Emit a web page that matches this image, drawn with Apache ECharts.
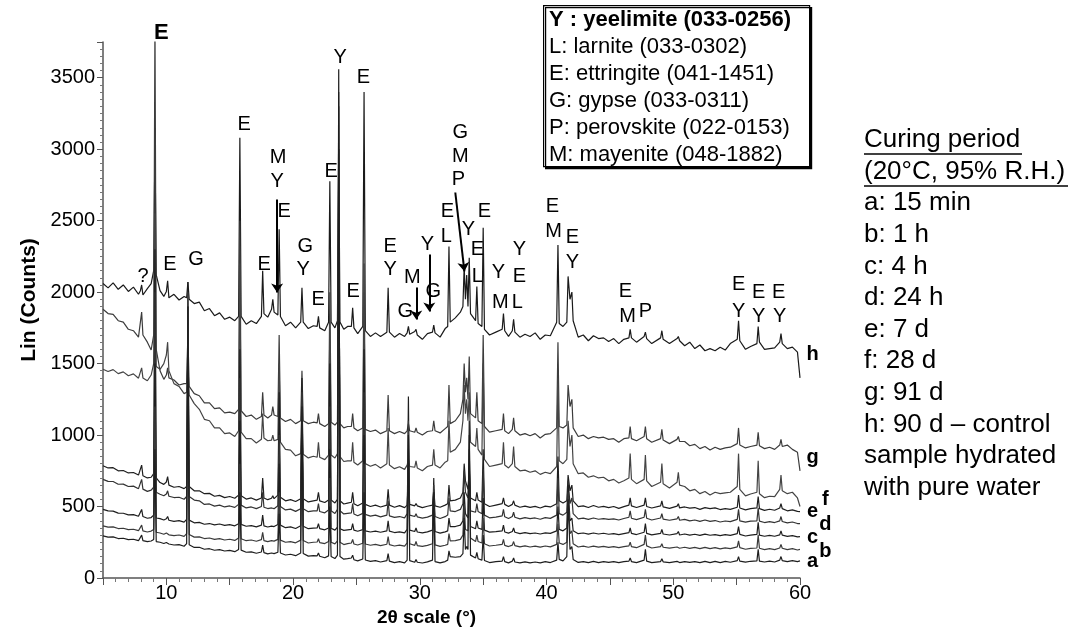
<!DOCTYPE html>
<html>
<head>
<meta charset="utf-8">
<script src="https://cdn.jsdelivr.net/npm/echarts@6/dist/echarts.min.js"></script>
<style>
html, body { margin: 0; padding: 0; background: #fff; }
#main { width: 1073px; height: 632px; }
</style>
</head>
<body>
<div id="main"></div>
<script>
// XRD patterns: one 2theta grid, one counts array per sample
var twoTheta = [
    5.0, 5.4, 5.8, 6.2, 6.6, 7.0, 7.4, 7.8, 7.95, 8.05,
    8.15, 8.5, 8.8, 9.0, 9.1, 9.2, 9.5, 9.8, 10.0, 10.1,
    10.2, 10.6, 11.0, 11.4, 11.6, 11.7, 11.8, 12.2, 12.6, 13.0,
    13.4, 13.8, 14.2, 14.6, 15.0, 15.4, 15.7, 15.8, 15.9, 16.3,
    16.7, 17.1, 17.5, 17.6, 17.7, 18.0, 18.3, 18.4, 18.5, 18.8,
    18.9, 19.0, 19.4, 19.8, 20.2, 20.6, 20.7, 20.8, 21.2, 21.6,
    21.9, 22.0, 22.1, 22.5, 22.8, 22.9, 23.0, 23.3, 23.5, 23.6,
    23.7, 24.0, 24.3, 24.6, 24.7, 24.8, 25.1, 25.5, 25.6, 25.7,
    26.1, 26.5, 26.9, 27.4, 27.5, 27.6, 28.0, 28.4, 28.8, 29.0,
    29.1, 29.2, 29.6, 29.7, 29.8, 30.2, 30.6, 31.0, 31.1, 31.2,
    31.6, 32.0, 32.2, 32.3, 32.4, 32.8, 33.2, 33.4, 33.5, 33.6,
    33.7, 33.8, 33.9, 34.0, 34.4, 34.5, 34.6, 34.9, 35.0, 35.1,
    35.5, 36.0, 36.5, 36.6, 36.7, 37.0, 37.3, 37.4, 37.5, 37.9,
    38.3, 38.7, 39.1, 39.5, 39.9, 40.3, 40.8, 40.9, 41.0, 41.3,
    41.6, 41.7, 41.85, 42.0, 42.1, 42.5, 42.9, 43.3, 43.7, 44.1,
    44.5, 44.9, 45.3, 45.7, 46.1, 46.5, 46.6, 46.7, 47.1, 47.7,
    47.8, 47.9, 48.3, 49.0, 49.1, 49.2, 49.7, 50.3, 50.4, 50.5,
    50.9, 51.3, 51.7, 52.1, 52.5, 52.9, 53.3, 53.7, 54.1, 54.5,
    55.05, 55.15, 55.25, 55.7, 56.1, 56.6, 56.7, 56.8, 57.2, 57.6,
    58.0, 58.4, 58.5, 58.6, 59.0, 59.4, 59.8, 60.0
];

var yH = [
    2060, 2030, 2065, 2020, 2050, 2005, 2035, 1985, 2010, 2050,
    1980, 2025, 2060, 2150, 3050, 2120, 2010, 1970, 2005, 2080,
    1960, 1985, 1945, 1970, 1960, 2070, 1950, 1920, 1930, 1870,
    1885, 1835, 1855, 1810, 1825, 1800, 1830, 3080, 1830, 1775,
    1800, 1780, 1830, 2150, 1850, 1825, 1880, 1950, 1860, 1840,
    2440, 1830, 1765, 1790, 1750, 1790, 2030, 1790, 1745, 1765,
    1760, 1830, 1750, 1730, 1790, 2775, 1790, 1750, 1800, 3000,
    1790, 1740, 1760, 1760, 1890, 1750, 1710, 1760, 3400, 1730,
    1690, 1715, 1690, 1720, 2030, 1720, 1685, 1710, 1690, 1715,
    1760, 1705, 1725, 1740, 1700, 1670, 1710, 1720, 1770, 1715,
    1685, 1745, 1760, 2320, 1790, 1820, 1860, 1900, 2180, 1950,
    2120, 1900, 2240, 1850, 1800, 2040, 1780, 1760, 2450, 1740,
    1700, 1720, 1740, 1850, 1730, 1690, 1730, 1810, 1720, 1685,
    1705, 1690, 1715, 1670, 1700, 1695, 1790, 2330, 1780, 1760,
    1790, 2110, 1950, 2000, 1800, 1685, 1700, 1660, 1695, 1675,
    1680, 1655, 1675, 1640, 1670, 1680, 1740, 1680, 1650, 1690,
    1720, 1675, 1640, 1680, 1730, 1670, 1640, 1675, 1690, 1660,
    1625, 1650, 1605, 1630, 1590, 1605, 1590, 1615, 1595, 1640,
    1670, 1800, 1660, 1600, 1620, 1640, 1760, 1650, 1600, 1605,
    1610, 1650, 1710, 1640, 1605, 1615, 1580, 1400
];
var yG = [
    1880, 1850, 1845, 1800, 1790, 1740, 1730, 1685, 1690, 1860,
    1700, 1650, 1595, 1700, 3900, 1600, 1450, 1390, 1420, 1470,
    1400, 1385, 1350, 1360, 1360, 1700, 1340, 1290, 1275, 1225,
    1225, 1185, 1190, 1155, 1160, 1150, 1180, 2500, 1170, 1130,
    1140, 1110, 1130, 1300, 1140, 1120, 1140, 1200, 1140, 1130,
    1700, 1120, 1095, 1110, 1080, 1100, 1450, 1100, 1080, 1090,
    1085, 1150, 1080, 1060, 1080, 2000, 1090, 1070, 1090, 2400,
    1080, 1050, 1060, 1060, 1150, 1050, 1030, 1050, 2200, 1040,
    1025, 1035, 1010, 1030, 1280, 1030, 1010, 1025, 1010, 1030,
    1080, 1030, 1020, 1050, 1020, 1000, 1025, 1030, 1100, 1030,
    1015, 1045, 1060, 1350, 1080, 1100, 1150, 1250, 1500, 1300,
    1400, 1250, 1550, 1150, 1120, 1300, 1100, 1080, 1700, 1060,
    1020, 1030, 1040, 1150, 1030, 1010, 1040, 1120, 1030, 1000,
    1010, 995, 1010, 980, 1005, 1010, 1050, 1650, 1060, 1050,
    1070, 1350, 1200, 1250, 1050, 990, 1000, 975, 990, 980,
    985, 970, 975, 950, 975, 980, 1060, 975, 960, 990,
    1060, 975, 950, 975, 1040, 965, 940, 970, 990, 955,
    955, 925, 935, 905, 920, 895, 915, 900, 910, 915,
    940, 1050, 930, 910, 920, 930, 1020, 925, 905, 915,
    900, 930, 970, 920, 930, 900, 880, 750
];
var yF = [
    1460, 1445, 1458, 1430, 1442, 1415, 1428, 1398, 1400, 1470,
    1400, 1380, 1420, 1500, 2550, 1480, 1460, 1500, 1560, 1650,
    1450, 1360, 1340, 1290, 1300, 1500, 1280, 1220, 1180, 1110,
    1100, 1050, 1050, 1010, 1015, 990, 1030, 2200, 1020, 975,
    975, 945, 970, 1150, 980, 960, 965, 1000, 960, 970,
    1500, 950, 900, 895, 855, 870, 1250, 865, 840, 852,
    845, 950, 845, 828, 860, 1800, 860, 840, 870, 2200,
    850, 815, 820, 820, 950, 810, 790, 820, 2000, 800,
    782, 795, 770, 800, 1050, 790, 765, 778, 760, 790,
    830, 780, 775, 820, 770, 750, 780, 790, 900, 790,
    770, 810, 820, 1100, 880, 900, 950, 1100, 1350, 1150,
    1250, 1100, 1300, 950, 920, 1050, 900, 860, 1500, 830,
    780, 790, 800, 950, 790, 770, 800, 920, 780, 750,
    755, 740, 750, 725, 740, 730, 780, 1400, 820, 800,
    830, 1100, 920, 1000, 800, 730, 735, 705, 715, 700,
    705, 680, 690, 665, 680, 700, 870, 690, 660, 690,
    860, 680, 640, 670, 800, 660, 630, 670, 740, 650,
    640, 610, 620, 590, 605, 580, 600, 590, 595, 600,
    640, 870, 620, 575, 588, 600, 820, 590, 562, 572,
    570, 620, 720, 610, 590, 600, 560, 500
];
var yE = [
    785, 770, 772, 750, 752, 735, 738, 720, 722, 790,
    715, 700, 705, 730, 2300, 700, 668, 655, 672, 710,
    650, 635, 640, 625, 640, 1500, 640, 610, 610, 590,
    592, 572, 578, 562, 570, 558, 580, 1600, 575, 552,
    560, 545, 560, 700, 560, 548, 558, 575, 555, 580,
    1300, 565, 540, 548, 535, 555, 1100, 555, 532, 540,
    545, 600, 540, 528, 545, 1500, 545, 525, 550, 2600,
    540, 518, 524, 530, 600, 520, 505, 525, 1600, 515,
    500, 510, 497, 510, 620, 510, 495, 506, 492, 510,
    700, 515, 505, 520, 505, 492, 502, 510, 620, 505,
    495, 510, 520, 650, 540, 545, 560, 600, 800, 680,
    650, 620, 760, 560, 540, 600, 545, 530, 900, 520,
    500, 510, 520, 560, 515, 500, 515, 540, 510, 495,
    503, 494, 501, 490, 503, 497, 520, 850, 540, 525,
    540, 720, 610, 650, 540, 500, 505, 493, 507, 495,
    501, 492, 500, 487, 499, 510, 560, 505, 493, 510,
    560, 500, 490, 505, 540, 498, 487, 503, 520, 490,
    497, 489, 493, 480, 492, 485, 491, 479, 485, 480,
    495, 580, 490, 477, 485, 490, 570, 485, 473, 481,
    474, 490, 520, 485, 470, 477, 466, 465
];
var yD = [
    690, 676, 675, 656, 657, 640, 643, 625, 628, 690,
    622, 606, 615, 635, 2000, 600, 586, 575, 588, 610,
    572, 563, 565, 551, 570, 1900, 570, 545, 540, 515,
    518, 503, 510, 497, 504, 494, 515, 1400, 510, 490,
    497, 485, 500, 600, 495, 486, 490, 490, 485, 505,
    1000, 500, 476, 482, 466, 485, 1200, 485, 464, 470,
    470, 520, 465, 456, 475, 1200, 470, 451, 480, 3000,
    470, 448, 452, 455, 520, 448, 436, 452, 1300, 445,
    433, 440, 428, 440, 540, 435, 424, 430, 421, 450,
    900, 440, 430, 450, 428, 419, 426, 440, 600, 430,
    416, 429, 440, 560, 470, 465, 480, 520, 750, 600,
    600, 560, 800, 470, 460, 520, 465, 450, 760, 440,
    421, 426, 435, 480, 428, 416, 430, 460, 425, 414,
    422, 416, 420, 411, 422, 417, 440, 700, 450, 440,
    460, 680, 520, 560, 450, 414, 419, 410, 420, 411,
    416, 410, 414, 406, 416, 425, 470, 418, 408, 425,
    480, 418, 406, 420, 450, 412, 404, 414, 430, 404,
    410, 400, 406, 396, 406, 396, 402, 392, 399, 394,
    410, 480, 400, 391, 398, 400, 490, 398, 388, 394,
    388, 400, 430, 395, 386, 392, 381, 380
];
var yC = [
    480, 470, 468, 454, 453, 442, 443, 432, 433, 480,
    430, 418, 423, 440, 1500, 420, 415, 406, 414, 430,
    404, 396, 401, 391, 410, 2070, 405, 386, 389, 376,
    381, 372, 378, 368, 373, 365, 380, 1100, 375, 362,
    367, 358, 370, 440, 365, 357, 363, 365, 360, 375,
    800, 370, 352, 358, 346, 365, 1400, 362, 345, 349,
    350, 380, 345, 337, 350, 900, 348, 335, 355, 3300,
    345, 333, 337, 340, 380, 335, 327, 338, 1000, 330,
    322, 328, 320, 330, 400, 328, 318, 323, 316, 340,
    1270, 335, 325, 350, 322, 316, 323, 335, 700, 325,
    314, 323, 330, 420, 360, 360, 370, 400, 600, 450,
    450, 420, 900, 360, 345, 400, 350, 340, 560, 335,
    321, 325, 330, 370, 322, 314, 325, 350, 320, 311,
    318, 310, 315, 308, 316, 312, 330, 500, 340, 330,
    350, 650, 400, 420, 330, 310, 315, 307, 315, 308,
    313, 306, 311, 304, 311, 318, 350, 312, 304, 320,
    380, 312, 302, 312, 340, 308, 301, 311, 325, 301,
    308, 300, 306, 298, 307, 299, 304, 296, 303, 298,
    310, 360, 305, 294, 300, 305, 390, 300, 292, 298,
    292, 302, 330, 300, 291, 297, 288, 290
];
var yB = [
    365, 356, 358, 346, 348, 338, 341, 331, 333, 370,
    330, 322, 328, 340, 1200, 320, 315, 306, 315, 320,
    302, 296, 301, 291, 310, 2000, 305, 286, 288, 276,
    280, 270, 275, 266, 271, 263, 280, 800, 275, 261,
    266, 257, 268, 320, 262, 254, 261, 262, 258, 270,
    600, 265, 250, 255, 246, 265, 1300, 262, 245, 250,
    252, 275, 248, 241, 255, 700, 250, 239, 260, 3400,
    250, 234, 240, 245, 270, 238, 231, 243, 800, 238,
    229, 235, 227, 236, 290, 233, 224, 230, 223, 245,
    1100, 240, 228, 255, 227, 221, 228, 240, 650, 232,
    221, 229, 235, 310, 260, 262, 270, 300, 520, 340,
    350, 330, 1000, 280, 255, 300, 255, 245, 420, 240,
    224, 229, 235, 270, 228, 220, 230, 255, 226, 218,
    225, 217, 223, 216, 224, 218, 235, 380, 245, 235,
    250, 600, 310, 330, 240, 217, 223, 215, 223, 216,
    221, 214, 219, 212, 219, 225, 250, 220, 212, 235,
    300, 225, 210, 220, 240, 215, 209, 217, 230, 208,
    215, 207, 214, 206, 214, 206, 212, 204, 211, 206,
    218, 260, 212, 201, 207, 210, 300, 208, 199, 205,
    199, 210, 235, 208, 198, 205, 196, 200
];
var yA = [
    295, 286, 288, 276, 278, 268, 271, 261, 263, 300,
    262, 254, 259, 270, 900, 255, 250, 241, 248, 250,
    238, 231, 233, 222, 240, 1900, 232, 214, 215, 201,
    205, 194, 198, 189, 193, 184, 200, 600, 195, 180,
    183, 173, 182, 230, 178, 169, 175, 175, 171, 180,
    450, 175, 161, 166, 156, 175, 1200, 172, 153, 157,
    155, 175, 152, 142, 155, 500, 150, 136, 160, 3560,
    150, 132, 135, 140, 160, 128, 120, 133, 600, 126,
    116, 121, 112, 122, 170, 118, 108, 114, 106, 125,
    1000, 122, 110, 130, 110, 105, 113, 125, 600, 115,
    106, 115, 125, 190, 150, 145, 150, 170, 420, 200,
    220, 200, 1100, 160, 140, 180, 135, 125, 300, 122,
    108, 114, 118, 150, 115, 106, 118, 140, 112, 106,
    113, 106, 112, 106, 114, 108, 125, 250, 130, 120,
    150, 550, 200, 220, 130, 109, 115, 108, 116, 108,
    115, 109, 115, 108, 115, 118, 140, 115, 108, 125,
    200, 118, 108, 115, 135, 113, 108, 116, 125, 108,
    115, 109, 115, 108, 116, 108, 116, 108, 116, 110,
    122, 150, 118, 111, 117, 120, 200, 118, 112, 118,
    112, 125, 150, 122, 114, 121, 115, 120
];

var traceNames = ['h', 'g', 'f', 'e', 'd', 'c', 'b', 'a'];
var traceCounts = [yH, yG, yF, yE, yD, yC, yB, yA];
var traceColors = ['#1a1a1a', '#3c3c3c', '#444', '#1e1e1e', '#333', '#1e1e1e', '#3a3a3a', '#1e1e1e'];

// peak identification letters [2theta, counts, text]
var peakLabels = [
    [8.16, 2110, '?'], [10.29, 2194, 'E'], [12.35, 2229, 'G'], [16.14, 3172, 'E'],
    [18.82, 2941, 'M'], [18.74, 2774, 'Y'], [19.3, 2564, 'E'], [17.72, 2194, 'E'],
    [20.96, 2319, 'G'], [20.8, 2159, 'Y'], [21.98, 1949, 'E'], [23.01, 2843, 'E'],
    [23.72, 3640, 'Y'], [25.54, 3500, 'E'], [24.75, 2005, 'E'],
    [27.67, 2319, 'E'], [27.67, 2159, 'Y'], [29.41, 2103, 'M'], [28.85, 1865, 'G'],
    [30.59, 2333, 'Y'], [31.07, 2005, 'G'],
    [33.2, 3116, 'G'], [33.2, 2948, 'M'], [33.04, 2787, 'P'],
    [32.17, 2564, 'E'], [32.09, 2389, 'L'], [33.83, 2438, 'Y'], [35.09, 2564, 'E'],
    [34.54, 2298, 'E'], [34.54, 2110, 'L'], [36.2, 2138, 'Y'], [36.36, 1928, 'M'],
    [37.86, 2298, 'Y'], [37.86, 2110, 'E'], [37.7, 1928, 'L'],
    [40.47, 2599, 'E'], [40.55, 2424, 'M'], [42.05, 2382, 'E'], [42.05, 2208, 'Y'],
    [46.23, 2005, 'E'], [46.39, 1830, 'M'], [47.81, 1865, 'P'],
    [55.16, 2054, 'E'], [55.16, 1865, 'Y'], [56.74, 1998, 'E'], [56.74, 1830, 'Y'],
    [58.32, 1998, 'E'], [58.4, 1830, 'Y']
];
var mainPeakLabel = [9.6, 3814, 'E'];
// arrows [x1, y1, x2, y2]
var arrows = [
    [18.74, 2648, 18.74, 1998],
    [29.72, 2033, 29.72, 1809],
    [30.75, 2264, 30.75, 1865],
    [32.8, 2697, 33.52, 2145]
];
// sample tags at the right end [2theta, counts, text]
var traceTags = [
    [61.0, 1565, 'h'], [61.0, 845, 'g'], [62.0, 552, 'f'], [61.0, 468, 'e'],
    [62.0, 377, 'd'], [61.0, 286, 'c'], [62.0, 189, 'b'], [61.0, 119, 'a']
];

var phaseLines = ['Y : yeelimite (033-0256)', 'L: larnite (033-0302)', 'E: ettringite (041-1451)',
    'G: gypse (033-0311)', 'P: perovskite (022-0153)', 'M: mayenite (048-1882)'];
var curingLines = ['Curing period', '(20°C, 95% R.H.)', 'a: 15 min', 'b: 1 h', 'c: 4 h', 'd: 24 h',
    'e: 7 d', 'f: 28 d', 'g: 91 d', 'h: 90 d – control', 'sample hydrated', 'with pure water'];

var FONT = '"Liberation Sans", Arial, sans-serif';

var myChart = echarts.init(document.getElementById('main'));

var series = [];
traceCounts.forEach(function (ys, i) {
    series.push({
        name: traceNames[i],
        type: 'line',
        data: twoTheta.map(function (x, k) { return [x, ys[k]]; }),
        showSymbol: false,
        symbol: 'none',
        clip: true,
        lineStyle: { color: traceColors[i], width: 1.2 },
        z: 2
    });
});

function textSeries(data, fontSize, fontWeight) {
    return {
        type: 'scatter',
        clip: false,
        symbolSize: 0,
        itemStyle: { color: '#000' },
        data: data,
        label: {
            show: true,
            position: 'inside',
            formatter: function (p) { return p.value[2]; },
            color: '#000',
            opacity: 1,
            textBorderWidth: 0,
            fontFamily: FONT,
            fontWeight: fontWeight,
            fontSize: fontSize
        },
        z: 5
    };
}

var peakSeries = textSeries(peakLabels.map(function (p) { return { value: p }; }).concat([{
    value: mainPeakLabel,
    label: { fontWeight: 'bold', fontSize: 22 }
}]), 20, 'normal');
peakSeries.markLine = {
    silent: true,
    symbol: ['none', 'arrow'],
    symbolSize: 9,
    label: { show: false },
    lineStyle: { color: '#000', width: 2, type: 'solid' },
    data: arrows.map(function (a) {
        return [{ coord: [a[0], a[1]] }, { coord: [a[2], a[3]] }];
    })
};
series.push(peakSeries);
series.push(textSeries(traceTags, 20, 'bold'));

var graphics = [{
    type: 'rect',
    left: 543, top: 5,
    shape: { width: 266, height: 161 },
    style: { fill: '#fff', stroke: '#000', lineWidth: 1.2, shadowColor: '#000', shadowOffsetX: 2, shadowOffsetY: 2 },
    z: 10
}];
phaseLines.forEach(function (t, i) {
    graphics.push({
        type: 'text',
        x: 549, y: 20 + i * 27,
        style: {
            text: t, fill: '#000', fontFamily: FONT, fontSize: 22,
            fontWeight: i === 0 ? 'bold' : 'normal', verticalAlign: 'middle'
        },
        z: 11
    });
});
curingLines.forEach(function (t, i) {
    graphics.push({
        type: 'text',
        x: 864, y: 140 + i * 31.6,
        style: { text: t, fill: '#000', fontFamily: FONT, fontSize: 26, verticalAlign: 'middle' },
        z: 11
    });
});
// underline the heading lines
[[864, 1022, 154], [864, 1068, 186]].forEach(function (u) {
    graphics.push({
        type: 'line',
        shape: { x1: u[0], y1: u[2], x2: u[1], y2: u[2] },
        style: { stroke: '#000', lineWidth: 1.5 },
        z: 11
    });
});

option = {
    animation: false,
    backgroundColor: '#fff',
    grid: { left: 103, right: 273, top: 42, bottom: 53 },
    xAxis: {
        type: 'value',
        min: 5,
        max: 60,
        interval: 5,
        name: '2θ scale (°)',
        nameLocation: 'middle',
        nameGap: 30,
        nameMoveOverlap: false,
        nameTextStyle: { fontFamily: FONT, fontWeight: 'bold', fontSize: 19, color: '#000', padding: [0, 50, 0, 0] },
        axisLine: { lineStyle: { color: '#555', width: 1.5 } },
        axisTick: { length: 7, lineStyle: { color: '#555' } },
        minorTick: { show: true, splitNumber: 5, length: 4, lineStyle: { color: '#777' } },
        axisLabel: {
            fontFamily: FONT, fontSize: 20, color: '#000', margin: 5,
            formatter: function (v) { return v % 10 === 0 ? v : ''; }
        },
        splitLine: { show: false }
    },
    yAxis: {
        type: 'value',
        min: 0,
        max: 3750,
        interval: 500,
        name: 'Lin (Counts)',
        nameLocation: 'middle',
        nameGap: 63,
        nameMoveOverlap: false,
        nameTextStyle: { fontFamily: FONT, fontWeight: 'bold', fontSize: 21, color: '#000', padding: [0, 0, 0, 20] },
        axisLine: { show: true, lineStyle: { color: '#555', width: 1.5 } },
        axisTick: { show: true, length: 6, lineStyle: { color: '#555' } },
        minorTick: { show: true, splitNumber: 10, length: 3, lineStyle: { color: '#777' } },
        axisLabel: {
            fontFamily: FONT, fontSize: 20, color: '#000', margin: 8,
            formatter: function (v) { return v % 500 === 0 ? v : ''; }
        },
        splitLine: { show: false }
    },
    series: series,
    graphic: graphics
};

myChart.setOption(option);
</script>
</body>
</html>
